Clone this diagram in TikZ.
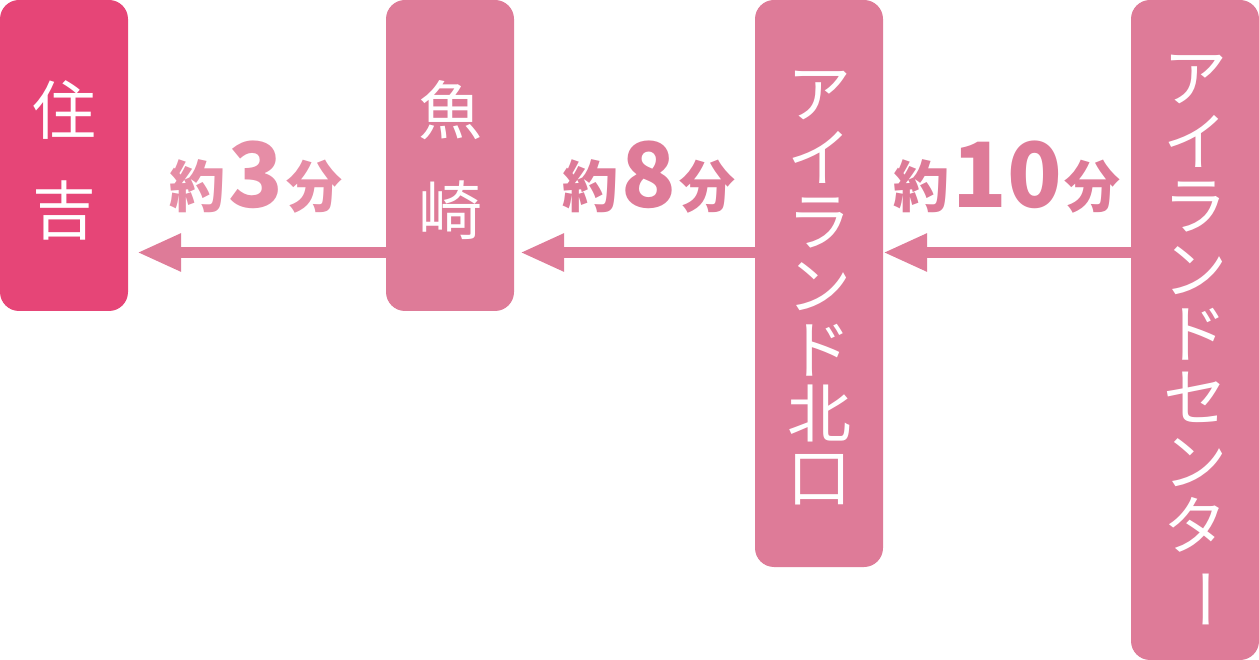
\documentclass[tikz,border=0pt]{standalone}
\usepackage{fontspec}
\usepackage{graphicx}
\newfontfamily\jp{Noto Sans CJK JP}
\usetikzlibrary{arrows.meta}
\definecolor{pinkA}{HTML}{E64577}
\definecolor{pinkB}{HTML}{DE7B98}
\definecolor{pinkC}{HTML}{E68DA6}
\begin{document}
\begin{tikzpicture}[x=1pt,y=-1pt,
  station/.style={fill=pinkB, rounded corners=19pt, draw=none, inner sep=0pt, outer sep=0pt, minimum width=128pt, anchor=north west},
  vtext/.style={text=white, align=center, inner sep=0pt},
  vshort/.style={vtext, font=\jp\fontsize{64}{100}\selectfont},
  vlong/.style={vtext, font=\jp\fontsize{64}{64}\selectfont},
  timelbl/.style={text=pinkB, font=\jp\bfseries\fontsize{56}{56}\selectfont, anchor=base, inner sep=0pt},
  conn/.style={draw=pinkB, line width=11pt, -{Triangle[length=44pt,width=35pt]}}]
\useasboundingbox (0,0) rectangle (1259,660);
\newcommand{\dg}[1]{\hspace{3pt}{\fontsize{90}{90}\selectfont #1}\hspace{3pt}}
\node[station, fill=pinkA, minimum height=311pt] (s1) at (0,0) {};
\node[station, minimum height=311pt] (s2) at (386,0) {};
\node[station, minimum height=567pt] (s3) at (755,0) {};
\node[station, minimum height=660pt] (s4) at (1131,0) {};
\node[vshort] (t1) at (64,160) {住\\吉};
\node[vshort] (t2) at (450,160) {魚\\崎};
\node[vlong] (t3) at (819,288) {ア\\イ\\ラ\\ン\\ド\\北\\口};
\node[vlong] (t4) at (1195,343) {ア\\イ\\ラ\\ン\\ド\\セ\\ン\\タ\\\rotatebox[origin=c]{-90}{ー}};
\coordinate (lvl) at (0,252.5);
\draw[conn, shorten >=9pt] (s2.west |- lvl) -- (s1.east |- lvl);
\draw[conn, shorten >=6pt] (s3.west |- lvl) -- (s2.east |- lvl);
\draw[conn] (s4.west |- lvl) -- (s3.east |- lvl);
\node[timelbl, text=pinkC] (l1) at (256,208) {約\dg{3}分};
\node[timelbl] (l2) at (649,208) {約\dg{8}分};
\node[timelbl] (l3) at (1007,208) {約\dg{10}分};
\end{tikzpicture}
\end{document}
